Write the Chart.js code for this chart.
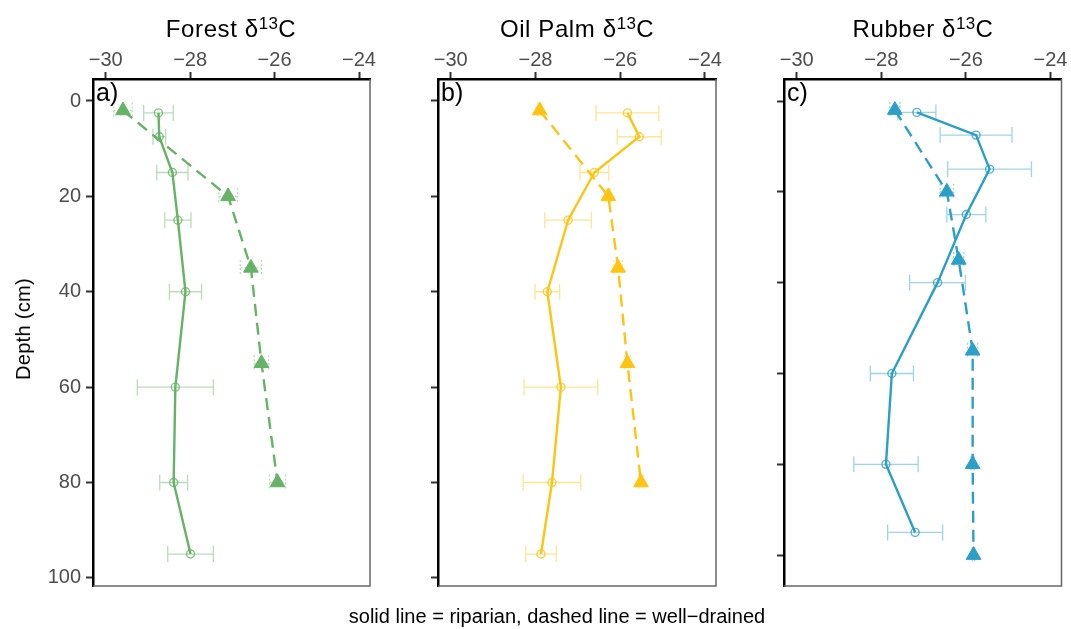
<!DOCTYPE html>
<html><head><meta charset="utf-8">
<script src="https://cdn.jsdelivr.net/npm/chart.js@4.4.0/dist/chart.umd.min.js"></script>
<style>
html,body{margin:0;padding:0;background:#fff;}
#wrap{position:relative;width:1071px;height:629px;overflow:hidden;font-family:"Liberation Sans",Arial,Helvetica,sans-serif;color:#000;}
canvas{position:absolute;left:0;top:0;}
.title{position:absolute;top:17px;width:300px;text-align:center;font-size:24px;line-height:24px;letter-spacing:0.6px;white-space:nowrap;}
.title .sup{font-size:17px;line-height:0;vertical-align:8px;letter-spacing:0.3px;}
.plab{position:absolute;top:80px;font-size:25px;line-height:25px;}
#ytitle{position:absolute;left:23px;top:329px;transform:translate(-50%,-50%) rotate(-90deg);font-size:20px;line-height:20px;letter-spacing:0.3px;white-space:nowrap;}
#foot{position:absolute;left:257px;width:600px;top:606px;text-align:center;font-size:20px;line-height:20px;white-space:nowrap;}
</style></head>
<body>
<div id="wrap">
<canvas id="cA" width="1071" height="629"></canvas>
<canvas id="cB" width="1071" height="629"></canvas>
<canvas id="cC" width="1071" height="629"></canvas>
<div class="title" style="left:81px">Forest δ<span class="sup">13</span>C</div>
<div class="title" style="left:427px">Oil Palm δ<span class="sup">13</span>C</div>
<div class="title" style="left:773px">Rubber δ<span class="sup">13</span>C</div>
<div class="plab" style="left:96px">a)</div>
<div class="plab" style="left:441px">b)</div>
<div class="plab" style="left:787px">c)</div>
<div id="ytitle">Depth (cm)</div>
<div id="foot">solid line = riparian, dashed line = well−drained</div>
</div>
<script>
// ---- data ----
const xTicks = [-30, -28, -26, -24];
const yTicks = [0, 20, 40, 60, 80, 100];

const depthsRiparian = [2.5, 7.5, 15, 25, 40, 60, 80, 95];
const depthsWellForest = [2, 20, 35, 55, 80];
const depthsWellOilPalm = [2, 20, 35, 55, 80];
const depthsWellRubber = [2, 20, 35, 55, 80, 100];

const forestRiparian   = [-28.75, -28.73, -28.42, -28.29, -28.11, -28.35, -28.39, -27.99];
const forestRiparianSE = [0.35, 0.15, 0.37, 0.31, 0.38, 0.90, 0.33, 0.54];
const forestWell       = [-29.59, -27.10, -26.56, -26.31, -25.93];
const forestWellSE     = [0.22, 0.22, 0.25, 0.17, 0.19];

const oilPalmRiparian   = [-25.83, -25.55, -26.61, -27.23, -27.72, -27.40, -27.61, -27.87];
const oilPalmRiparianSE = [0.74, 0.52, 0.34, 0.55, 0.29, 0.87, 0.68, 0.36];
const oilPalmWell       = [-27.90, -26.28, -26.05, -25.83, -25.51];
const oilPalmWellSE     = [0.05, 0.05, 0.10, 0.07, 0.05];

const rubberRiparian   = [-27.16, -25.76, -25.44, -25.99, -26.67, -27.75, -27.89, -27.20];
const rubberRiparianSE = [0.45, 0.85, 0.99, 0.46, 0.66, 0.51, 0.76, 0.65];
const rubberWell       = [-27.68, -26.45, -26.17, -25.84, -25.84, -25.82];
const rubberWellSE     = [0.12, 0.16, 0.12, 0.12, 0.04, 0.03];

// ---- styling ----
const FONT = '"Liberation Sans", Arial, Helvetica, sans-serif';
const W = 1071, H = 629;
const Wy = 60, Hx = 40;
const CAP = 8;

function rgba(hex, a) {
  const n = parseInt(hex.slice(1), 16);
  return `rgba(${(n>>16)&255},${(n>>8)&255},${n&255},${a})`;
}
const fmt = v => String(v).replace('-', '\u2212');

const errorBarPlugin = {
  id: 'errorBars',
  beforeDatasetsDraw(chart) {
    const {ctx, scales: {x, y}} = chart;
    chart.data.datasets.forEach(ds => {
      if (!ds.errors) return;
      ctx.save();
      ctx.strokeStyle = ds.errorColor;
      ctx.lineWidth = 1.3;
      ctx.setLineDash(ds.errorDash || []);
      ds.data.forEach((p, i) => {
        const e = ds.errors[i];
        const x0 = x.getPixelForValue(p.x - e), x1 = x.getPixelForValue(p.x + e);
        const py = y.getPixelForValue(p.y);
        ctx.beginPath();
        ctx.moveTo(x0, py); ctx.lineTo(x1, py);
        ctx.moveTo(x0, py - CAP); ctx.lineTo(x0, py + CAP);
        ctx.moveTo(x1, py - CAP); ctx.lineTo(x1, py + CAP);
        ctx.stroke();
      });
      ctx.restore();
    });
  },
  afterDraw(chart) {
    const {ctx, chartArea: a} = chart;
    ctx.save();
    ctx.strokeStyle = '#666';
    ctx.lineWidth = 1.5;
    ctx.beginPath();
    ctx.moveTo(a.left, a.bottom); ctx.lineTo(a.right, a.bottom); ctx.lineTo(a.right, a.top);
    ctx.stroke();
    ctx.restore();
  }
};

function makePanel(id, area, yMin, yMax, showYLabels, color, rip, ripSE, depthsWell, well, wellSE) {
  const axisCommon = {
    grid: { drawOnChartArea: false, drawTicks: true, tickLength: 7, tickColor: '#333', tickWidth: 2 },
    border: { display: true, color: '#000', width: 2.5 }
  };
  new Chart(document.getElementById(id), {
    type: 'scatter',
    data: {
      datasets: [
        {
          data: depthsRiparian.map((d, i) => ({x: rip[i], y: d})),
          showLine: true, borderColor: color, borderWidth: 2.4,
          pointStyle: 'circle', pointRadius: 4, pointBorderWidth: 1.4,
          pointBorderColor: rgba(color, 0.8), pointBackgroundColor: 'rgba(0,0,0,0)',
          errors: ripSE, errorColor: rgba(color, 0.45), errorDash: []
        },
        {
          data: depthsWell.map((d, i) => ({x: well[i], y: d})),
          showLine: true, borderColor: color, borderWidth: 2.4, borderDash: [12, 7],
          pointStyle: 'triangle', pointRadius: 8.5, pointBorderWidth: 1,
          pointBorderColor: color, pointBackgroundColor: color,
          errors: wellSE, errorColor: rgba(color, 0.45), errorDash: [2, 2]
        }
      ]
    },
    options: {
      responsive: false, animation: false, devicePixelRatio: 1,
      events: [],
      layout: { padding: { left: area.left - Wy, right: W - area.right, top: area.top - Hx, bottom: H - area.bottom } },
      plugins: { legend: { display: false }, tooltip: { enabled: false } },
      scales: {
        x: Object.assign({
          type: 'linear', position: 'top', min: -30.3, max: -23.74,
          afterBuildTicks: s => { s.ticks = xTicks.map(v => ({value: v})); },
          afterFit: s => { s.height = Hx; },
          ticks: { color: '#4d4d4d', font: {family: FONT, size: 20}, padding: 0, maxRotation: 0, autoSkip: false, callback: v => fmt(v) }
        }, axisCommon),
        y: Object.assign({
          type: 'linear', position: 'left', reverse: true, min: yMin, max: yMax,
          afterBuildTicks: s => { s.ticks = yTicks.map(v => ({value: v})); },
          afterFit: s => { s.width = Wy; },
          ticks: { display: showYLabels, color: '#4d4d4d', font: {family: FONT, size: 20}, padding: 5, autoSkip: false }
        }, axisCommon)
      }
    },
    plugins: [errorBarPlugin]
  });
}

makePanel('cA', {left: 93, right: 370, top: 79, bottom: 586}, -4.61, 101.7, true, '#66B266',
  forestRiparian, forestRiparianSE, depthsWellForest, forestWell, forestWellSE);
makePanel('cB', {left: 438, right: 716, top: 79, bottom: 586}, -4.61, 101.7, false, '#FFC412',
  oilPalmRiparian, oilPalmRiparianSE, depthsWellOilPalm, oilPalmWell, oilPalmWellSE);
makePanel('cC', {left: 784, right: 1062, top: 79, bottom: 586}, -4.85, 106.8, false, '#2B9FC7',
  rubberRiparian, rubberRiparianSE, depthsWellRubber, rubberWell, rubberWellSE);
</script>
</body></html>
